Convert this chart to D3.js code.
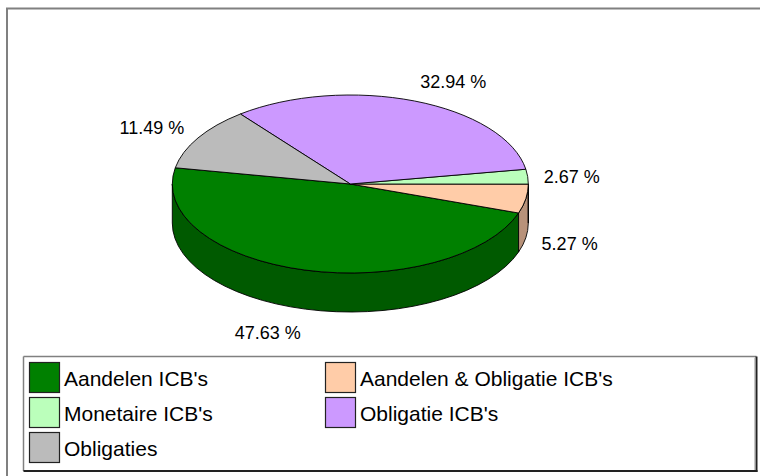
<!DOCTYPE html>
<html>
<head>
<meta charset="utf-8">
<script src="https://cdn.jsdelivr.net/npm/d3@7"></script>
<style>
  html, body { margin: 0; padding: 0; background: #ffffff; }
  svg { display: block; font-family: "Liberation Sans", Arial, sans-serif; }
</style>
</head>
<body>
<svg id="chart" width="760" height="476"></svg>
<script>
// Portfolio split by fund type (percent)
const categories = ["Aandelen ICB's", "Aandelen & Obligatie ICB's", "Monetaire ICB's", "Obligatie ICB's", "Obligaties"];
const values = [47.63, 5.27, 2.67, 32.94, 11.49];
const topColors = ["#008000", "#FFCCA8", "#BBFFBB", "#CC99FF", "#BBBBBB"];
const sideColors = ["#005A00", "#B8927A", "#7FBF7F", "#8F6BB3", "#838383"];

const W = 760, H = 476;
const svg = d3.select("#chart");

// Outer frame (top and left edges)
svg.append("line").attr("x1", 6).attr("y1", 8.5).attr("x2", W).attr("y2", 8.5)
  .attr("stroke", "#808080").attr("stroke-width", 2);
svg.append("line").attr("x1", 7).attr("y1", 8).attr("x2", 7).attr("y2", H)
  .attr("stroke", "#808080").attr("stroke-width", 2);

// Tilted pie geometry: angles are parametric on the ellipse, increasing clockwise from 3 o'clock
const cx = 350.3, cy = 184, rx = 178, ry = 89, depth = 39;
const deg = Math.PI / 180;
const t0 = 190.5 * deg;

const pie = d3.pie().sort(null).value(d => d)
  .startAngle(t0).endAngle(t0 - 2 * Math.PI);
const arcs = pie(values).map((a, i) => ({
  i, value: a.value,
  lo: Math.min(a.startAngle, a.endAngle),
  hi: Math.max(a.startAngle, a.endAngle)
}));

const pt = (t, dy = 0) => [cx + rx * Math.cos(t), cy + ry * Math.sin(t) + dy];

function topPath(a) {
  const p0 = pt(a.lo), p1 = pt(a.hi);
  const large = (a.hi - a.lo) > Math.PI ? 1 : 0;
  const p = d3.path();
  p.moveTo(cx, cy);
  p.lineTo(p0[0], p0[1]);
  return p.toString() + ` A${rx},${ry} 0 ${large} 1 ${p1[0]},${p1[1]} Z`;
}

function sidePaths(a) {
  const out = [];
  for (let k = -1; k <= 1; k++) {
    const lo = Math.max(a.lo + 2 * Math.PI * k, 0);
    const hi = Math.min(a.hi + 2 * Math.PI * k, Math.PI);
    if (hi - lo > 1e-4) {
      const p0 = pt(lo), p1 = pt(hi), q1 = pt(hi, depth), q0 = pt(lo, depth);
      out.push(`M${p0[0]},${p0[1]} A${rx},${ry} 0 0 1 ${p1[0]},${p1[1]} ` +
        `L${q1[0]},${q1[1]} A${rx},${ry} 0 0 0 ${q0[0]},${q0[1]} Z`);
    }
  }
  return out;
}

const pieG = svg.append("g");
const sides = [];
arcs.forEach(a => sidePaths(a).forEach(d => sides.push({ d, i: a.i })));
pieG.selectAll("path.side").data(sides).join("path")
  .attr("class", "side")
  .attr("d", s => s.d)
  .attr("fill", s => sideColors[s.i])
  .attr("stroke", "#000").attr("stroke-width", 0.9).attr("stroke-linejoin", "round");

pieG.selectAll("path.top").data(arcs).join("path")
  .attr("class", "top")
  .attr("d", topPath)
  .attr("fill", a => topColors[a.i])
  .attr("stroke", "#000").attr("stroke-width", 0.9).attr("stroke-linejoin", "round");

// Percentage labels placed just outside each slice
const fmt = d3.format(".2f");
const gap = 16, textH = 14;
const labelG = svg.append("g").attr("font-size", 18).attr("fill", "#000");
arcs.forEach(a => {
  const m = (a.lo + a.hi) / 2;
  const c = Math.cos(m), s = Math.sin(m);
  const e = pt(m, s > 0 ? depth : 0);
  const px = e[0] + c * gap, py = e[1] + s * gap;
  const anchor = Math.abs(c) < 0.1 ? "middle" : (c > 0 ? "start" : "end");
  labelG.append("text")
    .attr("x", px)
    .attr("y", py + s * textH / 2 + 2)
    .attr("text-anchor", anchor)
    .attr("dominant-baseline", "central")
    .text(fmt(a.value) + " %");
});

// Legend
const lg = svg.append("g");
const lx0 = 23.5, ly0 = 356.5, lx1 = 756.5, ly1 = 471;
lg.append("rect").attr("x", lx0).attr("y", ly0).attr("width", lx1 - lx0).attr("height", ly1 - ly0)
  .attr("fill", "#fff");
lg.append("line").attr("x1", lx0).attr("y1", ly0).attr("x2", lx1).attr("y2", ly0)
  .attr("stroke", "#808080").attr("stroke-width", 1.5);
lg.append("line").attr("x1", lx0).attr("y1", ly0).attr("x2", lx0).attr("y2", ly1)
  .attr("stroke", "#808080").attr("stroke-width", 1.5);
lg.append("line").attr("x1", lx1 - 2).attr("y1", ly0 + 1).attr("x2", lx1 - 2).attr("y2", ly1 - 1)
  .attr("stroke", "#c8c8c8").attr("stroke-width", 1);
lg.append("line").attr("x1", lx1).attr("y1", ly0).attr("x2", lx1).attr("y2", ly1 + 1)
  .attr("stroke", "#222").attr("stroke-width", 2);
lg.append("line").attr("x1", lx0).attr("y1", ly1).attr("x2", lx1 + 1).attr("y2", ly1)
  .attr("stroke", "#222").attr("stroke-width", 2);

const colX = [29, 325], rowY0 = 362, rowStep = 35, sw = 30;
const items = lg.selectAll("g.item").data(categories).join("g")
  .attr("class", "item")
  .attr("transform", (d, i) => `translate(${colX[i % 2]},${rowY0 + Math.floor(i / 2) * rowStep})`);
items.append("rect")
  .attr("x", 0.5).attr("y", 0.5).attr("width", sw).attr("height", sw)
  .attr("fill", (d, i) => topColors[i])
  .attr("stroke", "#222").attr("stroke-width", 1.2);
items.append("text")
  .attr("x", sw + 5).attr("y", sw / 2 + 1)
  .attr("dominant-baseline", "central")
  .attr("font-size", 21).attr("fill", "#000")
  .text(d => d);
</script>
</body>
</html>
